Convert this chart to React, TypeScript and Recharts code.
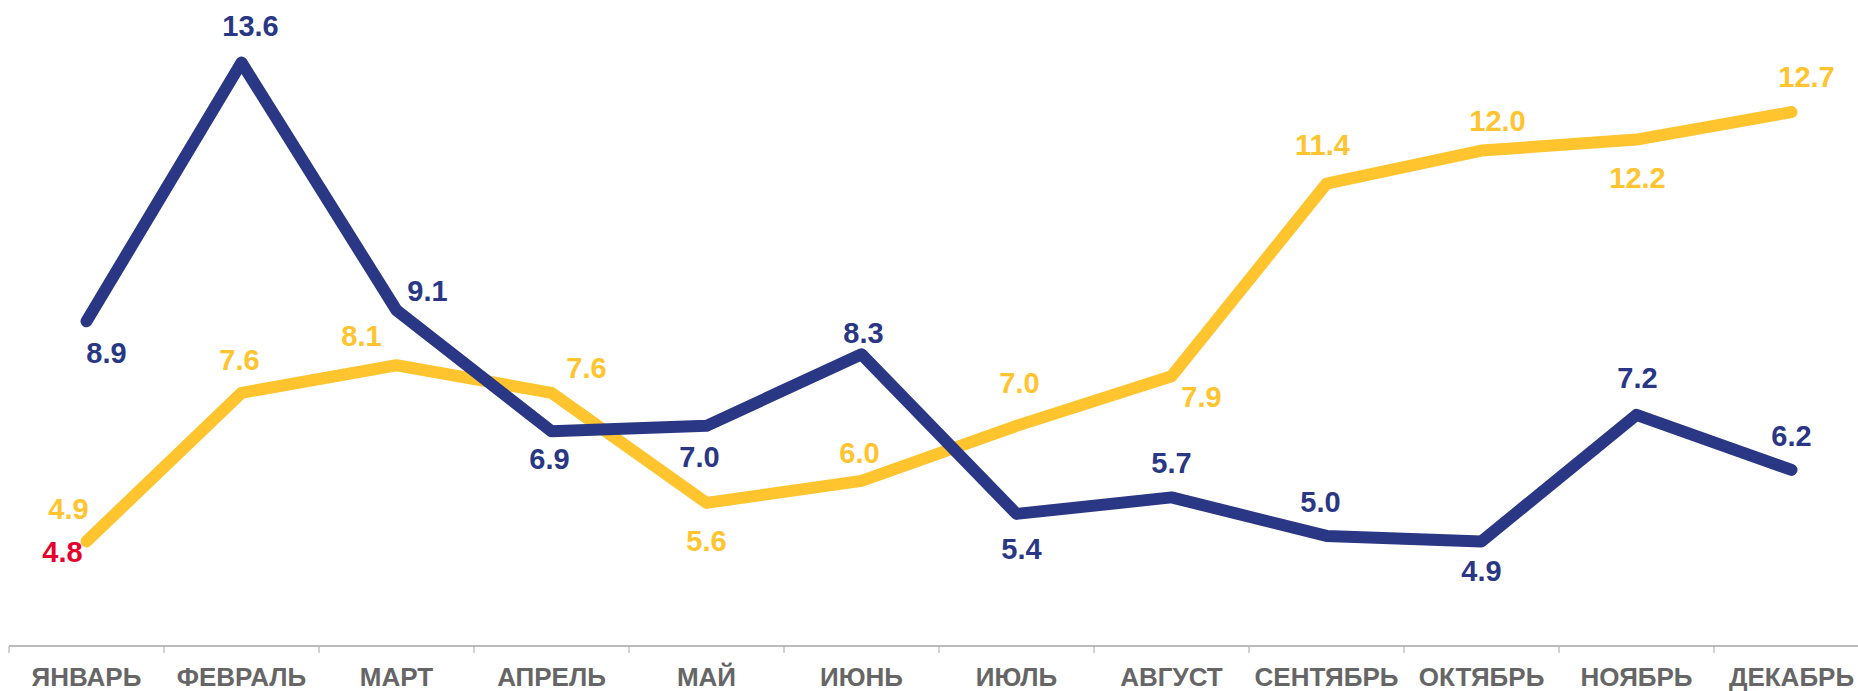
import React from 'react';
import { LineChart, Line, XAxis, YAxis, LabelList } from 'recharts';

const MONTHS = ['ЯНВАРЬ', 'ФЕВРАЛЬ', 'МАРТ', 'АПРЕЛЬ', 'МАЙ', 'ИЮНЬ', 'ИЮЛЬ', 'АВГУСТ', 'СЕНТЯБРЬ', 'ОКТЯБРЬ', 'НОЯБРЬ', 'ДЕКАБРЬ'];
const BLUE_VALUES = [8.9, 13.6, 9.1, 6.9, 7.0, 8.3, 5.4, 5.7, 5.0, 4.9, 7.2, 6.2];
const YELLOW_VALUES = [4.9, 7.6, 8.1, 7.6, 5.6, 6.0, 7.0, 7.9, 11.4, 12.0, 12.2, 12.7];
const RED_VALUES: (number | null)[] = [4.8, null, null, null, null, null, null, null, null, null, null, null];
const EDGE_TICKS = [0, 1, 2, 3, 4, 5, 6, 7, 8, 9, 10, 11, 12];

const BLUE = '#2a3784';
const YELLOW = '#ffc42e';
const RED = '#e4032e';
const FONT = '"Liberation Sans", Arial, sans-serif';

// label offsets from the point, [dx, dy] to the label centre
const BLUE_OFFSETS = [[20, 31], [9, -37], [31, -20], [-2, 27], [-7, 31], [2, -22], [5, 35], [0, -35], [-6, -34], [0, 29], [1, -37], [0, -34]];
const YELLOW_OFFSETS = [[-18, -33], [-2, -33], [-35, -30], [35, -25], [0, 38], [-2, -28], [3, -43], [30, 20], [-4, -39], [16, -30], [1, 38], [15, -36]];
const RED_OFFSETS = [[-24, 5]];

const data = MONTHS.map((month, i) => ({
  month,
  idx: i + 0.5,
  blue: BLUE_VALUES[i],
  yellow: YELLOW_VALUES[i],
  red: RED_VALUES[i],
}));

const makeLabel = (color: string, offsets: number[][]) => (props: any) => {
  const { x, y, value, index } = props;
  if (value == null || x == null || y == null) return null;
  const [dx, dy] = offsets[index] || [0, -30];
  return (
    <text
      x={x + dx}
      y={y + dy}
      dy="0.36em"
      textAnchor="middle"
      fill={color}
      fontSize={29}
      fontWeight="bold"
      fontFamily={FONT}
    >
      {Number(value).toFixed(1)}
    </text>
  );
};

const App: React.FC = () => {
  return (
    <div style={{ position: 'fixed', left: 0, top: 0, width: 1858, height: 691, overflow: 'hidden', background: '#fff' }}>
      <LineChart width={1870} height={691} data={data} margin={{ top: 13, right: 1, left: 9, bottom: 0 }}>
        <XAxis
          xAxisId="a_edges"
          type="number"
          dataKey="idx"
          domain={[0, 12]}
          ticks={EDGE_TICKS}
          tickFormatter={() => ''}
          height={1}
          tickSize={7}
          axisLine={{ stroke: '#a6a6a6', strokeWidth: 1.5 }}
          tickLine={{ stroke: '#a6a6a6', strokeWidth: 1 }}
        />
        <XAxis
          xAxisId="b_cat"
          dataKey="month"
          scale="band"
          height={44}
          axisLine={false}
          tickLine={false}
          tickSize={0}
          tickMargin={21}
          interval={0}
          tick={{ fill: '#666666', fontSize: 26, fontWeight: 'bold', fontFamily: FONT }}
        />
        <YAxis hide type="number" domain={[3, 14.5]} />
        <Line
          xAxisId="b_cat"
          dataKey="yellow"
          stroke={YELLOW}
          strokeWidth={12}
          strokeLinecap="round"
          strokeLinejoin="round"
          dot={false}
          activeDot={false}
          isAnimationActive={false}
        >
          <LabelList dataKey="yellow" content={makeLabel(YELLOW, YELLOW_OFFSETS)} />
        </Line>
        <Line
          xAxisId="b_cat"
          dataKey="blue"
          stroke={BLUE}
          strokeWidth={12}
          strokeLinecap="round"
          strokeLinejoin="round"
          dot={false}
          activeDot={false}
          isAnimationActive={false}
        >
          <LabelList dataKey="blue" content={makeLabel(BLUE, BLUE_OFFSETS)} />
        </Line>
        <Line
          xAxisId="b_cat"
          dataKey="red"
          stroke="none"
          dot={false}
          activeDot={false}
          isAnimationActive={false}
        >
          <LabelList dataKey="red" content={makeLabel(RED, RED_OFFSETS)} />
        </Line>
      </LineChart>
    </div>
  );
};

export default App;
